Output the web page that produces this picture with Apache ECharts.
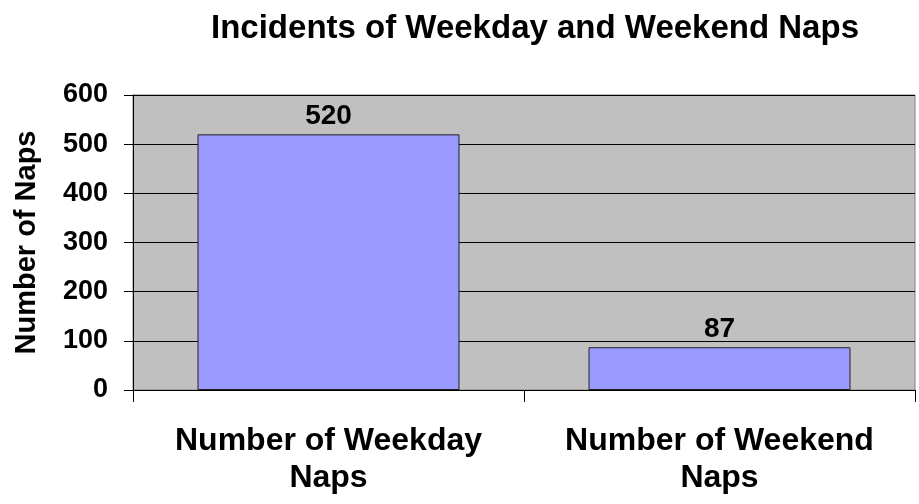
<!DOCTYPE html>
<html>
<head>
<meta charset="utf-8">
<script src="https://cdn.jsdelivr.net/npm/echarts@6/dist/echarts.min.js"></script>
<style>
  html, body { margin: 0; padding: 0; background: #fff; }
  #chart { width: 919px; height: 504px; }
</style>
</head>
<body>
<div id="chart"></div>
<script>
const categories = ['Number of Weekday\nNaps', 'Number of Weekend\nNaps'];
const napCounts = [520, 87];
const yTicks = { min: 0, max: 600, interval: 100 };

const font = 'Arial, "Liberation Sans", sans-serif';

const chart = echarts.init(document.getElementById('chart'));

chart.setOption({
  animation: false,
  title: {
    text: 'Incidents of Weekday and Weekend Naps',
    left: 530,
    top: 7,
    textAlign: 'center',
    textStyle: { fontFamily: font, fontWeight: 'bold', fontSize: 33, color: '#000' }
  },
  grid: {
    left: 133, right: 4, top: 95, bottom: 114,
    show: true,
    backgroundColor: '#C0C0C0',
    borderColor: '#808080',
    borderWidth: 1
  },
  xAxis: {
    type: 'category',
    data: categories,
    axisLine: { lineStyle: { color: '#000', width: 1 } },
    axisTick: { show: true, interval: 0, length: 12, lineStyle: { color: '#000' } },
    axisLabel: {
      interval: 0,
      hideOverlap: false,
      fontFamily: font, fontWeight: 'bold', fontSize: 32, color: '#000',
      margin: 33, lineHeight: 37
    }
  },
  yAxis: {
    type: 'value',
    min: yTicks.min,
    max: yTicks.max,
    interval: yTicks.interval,
    name: 'Number of Naps',
    nameLocation: 'middle',
    nameGap: 92,
    nameTextStyle: { fontFamily: font, fontWeight: 'bold', fontSize: 29, color: '#000' },
    axisLine: { show: true, lineStyle: { color: '#000', width: 1 } },
    axisTick: { show: true, length: 9, lineStyle: { color: '#000' } },
    axisLabel: { fontFamily: font, fontWeight: 'bold', fontSize: 27, color: '#000', margin: 25 },
    splitLine: { show: true, lineStyle: { color: '#000', width: 1 } }
  },
  series: [
    {
      type: 'bar',
      data: napCounts,
      barWidth: '67%',
      itemStyle: { color: '#9999FF', borderColor: '#222', borderWidth: 1 },
      label: {
        show: true,
        position: 'top',
        distance: 4,
        fontFamily: font, fontWeight: 'bold', fontSize: 28, color: '#000'
      }
    }
  ]
});
</script>
</body>
</html>
